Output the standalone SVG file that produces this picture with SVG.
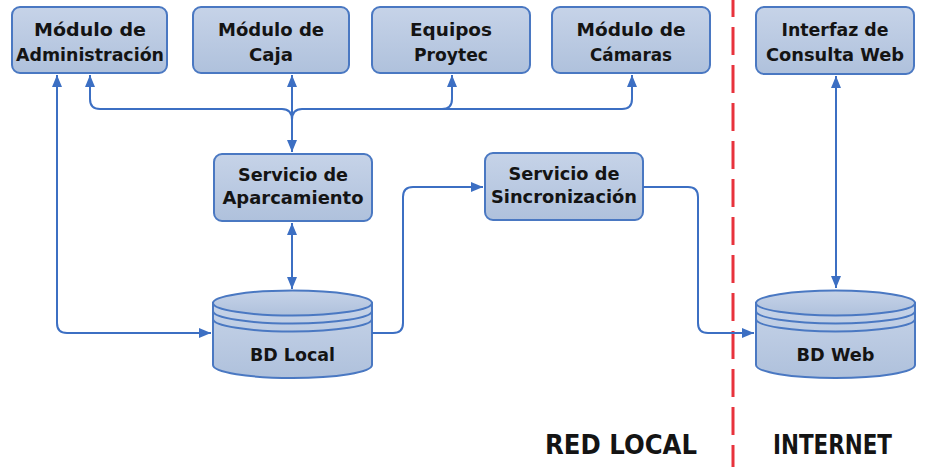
<svg xmlns="http://www.w3.org/2000/svg" width="925" height="467" viewBox="0 0 925 467">
<defs>
<linearGradient id="fillg" x1="0" y1="0" x2="0" y2="1">
<stop offset="0" stop-color="#c6d3e8"/>
<stop offset="1" stop-color="#afc1dc"/>
</linearGradient>
<marker id="arr" viewBox="0 0 12 10" refX="12" refY="5" markerWidth="12" markerHeight="10" markerUnits="userSpaceOnUse" orient="auto-start-reverse">
<path d="M0,0 L12,5 L0,10 z" fill="#3c6fc3"/>
</marker>
<style>
.box{fill:url(#fillg);stroke:#4a78c2;stroke-width:2}
.cyl{fill:url(#fillg);stroke:#4a78c2;stroke-width:2}
.band{fill:none;stroke:#4a78c2;stroke-width:2}
.lbl{font-family:"DejaVu Sans","Liberation Sans",sans-serif;font-weight:bold;font-size:18px;fill:#141414;text-anchor:middle}
.big{font-family:"DejaVu Sans","Liberation Sans",sans-serif;font-weight:bold;font-size:27px;fill:#141414}
.con{fill:none;stroke:#3c6fc3;stroke-width:2}
</style>
</defs>
<rect width="925" height="467" fill="#ffffff"/>
<line x1="733" y1="0" x2="733" y2="467" stroke="#e8323c" stroke-width="3" stroke-dasharray="28 10" stroke-dashoffset="11"/>
<g id="n-admin">
<rect class="box" x="12" y="7" width="155" height="66" rx="8"/>
<text class="lbl" x="90" y="36" textLength="112" lengthAdjust="spacingAndGlyphs">Módulo de</text>
<text class="lbl" x="90" y="61" textLength="148" lengthAdjust="spacingAndGlyphs">Administración</text>
</g>
<g id="n-caja">
<rect class="box" x="193" y="7" width="156" height="66" rx="8"/>
<text class="lbl" x="271" y="36" textLength="106" lengthAdjust="spacingAndGlyphs">Módulo de</text>
<text class="lbl" x="271" y="61" textLength="44" lengthAdjust="spacingAndGlyphs">Caja</text>
</g>
<g id="n-equipos">
<rect class="box" x="372" y="7" width="158" height="66" rx="8"/>
<text class="lbl" x="451" y="36" textLength="82" lengthAdjust="spacingAndGlyphs">Equipos</text>
<text class="lbl" x="451" y="61" textLength="74" lengthAdjust="spacingAndGlyphs">Proytec</text>
</g>
<g id="n-camaras">
<rect class="box" x="552" y="7" width="158" height="66" rx="8"/>
<text class="lbl" x="631" y="36" textLength="109" lengthAdjust="spacingAndGlyphs">Módulo de</text>
<text class="lbl" x="631" y="61" textLength="82" lengthAdjust="spacingAndGlyphs">Cámaras</text>
</g>
<g id="n-interfaz">
<rect class="box" x="756" y="7" width="158" height="67" rx="8"/>
<text class="lbl" x="835" y="36" textLength="107" lengthAdjust="spacingAndGlyphs">Interfaz de</text>
<text class="lbl" x="835" y="61" textLength="138" lengthAdjust="spacingAndGlyphs">Consulta Web</text>
</g>
<g id="n-aparcamiento">
<rect class="box" x="214" y="154" width="158" height="67" rx="8"/>
<text class="lbl" x="293" y="181" textLength="110" lengthAdjust="spacingAndGlyphs">Servicio de</text>
<text class="lbl" x="293" y="204" textLength="141" lengthAdjust="spacingAndGlyphs">Aparcamiento</text>
</g>
<g id="n-sincronizacion">
<rect class="box" x="485" y="153" width="158" height="67" rx="8"/>
<text class="lbl" x="564" y="180" textLength="111" lengthAdjust="spacingAndGlyphs">Servicio de</text>
<text class="lbl" x="564" y="203" textLength="146" lengthAdjust="spacingAndGlyphs">Sincronización</text>
</g>
<g id="n-bdlocal">
<path class="cyl" d="M213,303 L213,365 A79.5,13 0 0 0 372,365 L372,303 Z"/>
<ellipse class="cyl" cx="292.5" cy="303" rx="79.5" ry="12.5"/>
<path class="band" d="M213,311 A79.5,12.5 0 0 0 372,311 M213,319 A79.5,12.5 0 0 0 372,319"/>
<text class="lbl" x="292.5" y="361" textLength="85" lengthAdjust="spacingAndGlyphs">BD Local</text>
</g>
<g id="n-bdweb">
<path class="cyl" d="M756,303 L756,365 A79.5,13 0 0 0 915,365 L915,303 Z"/>
<ellipse class="cyl" cx="835.5" cy="303" rx="79.5" ry="12.5"/>
<path class="band" d="M756,311 A79.5,12.5 0 0 0 915,311 M756,319 A79.5,12.5 0 0 0 915,319"/>
<text class="lbl" x="835.5" y="361" textLength="78" lengthAdjust="spacingAndGlyphs">BD Web</text>
</g>
<g id="connectors">
<path class="con" d="M57,75 L57,323 Q57,333 67,333 L211,333" marker-start="url(#arr)" marker-end="url(#arr)"/>
<path class="con" d="M90,75 L90,99 Q90,109 100,109 L282,109 Q292,109 292,120" marker-start="url(#arr)"/>
<path class="con" d="M632,75 L632,99 Q632,109 622,109 L302,109 Q292,109 292,120" marker-start="url(#arr)"/>
<path class="con" d="M452,75 L452,99 Q452,109 442,109" marker-start="url(#arr)"/>
<path class="con" d="M292,75 L292,152" marker-start="url(#arr)" marker-end="url(#arr)"/>
<path class="con" d="M292,223 L292,289" marker-start="url(#arr)" marker-end="url(#arr)"/>
<path class="con" d="M372,333 L393,333 Q403,333 403,323 L403,197 Q403,187 413,187 L483,187" marker-end="url(#arr)"/>
<path class="con" d="M643,187 L688,187 Q698,187 698,197 L698,323 Q698,333 708,333 L754,333" marker-end="url(#arr)"/>
<path class="con" d="M836,76 L836,288" marker-start="url(#arr)" marker-end="url(#arr)"/>
</g>
<text class="big" x="545" y="454" textLength="152" lengthAdjust="spacingAndGlyphs">RED LOCAL</text>
<text class="big" x="773" y="454" textLength="119" lengthAdjust="spacingAndGlyphs">INTERNET</text>
</svg>
